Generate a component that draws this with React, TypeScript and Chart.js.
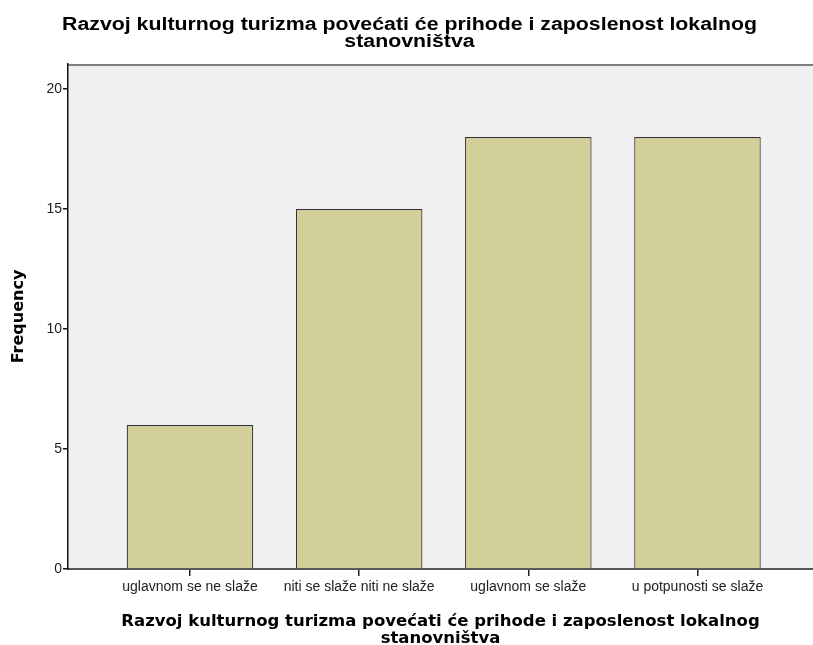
import React, { useEffect, useRef } from "react";
import { Chart, registerables } from "chart.js";

Chart.register(...registerables);

const categories = [
  "uglavnom se ne slaže",
  "niti se slaže niti ne slaže",
  "uglavnom se slaže",
  "u potpunosti se slaže",
];
const frequencies = [6, 15, 18, 18];
const yTicks = [0, 5, 10, 15, 20];
const titleLines = [
  "Razvoj kulturnog turizma povećati će prihode i zaposlenost lokalnog",
  "stanovništva",
];
const xTitleLines = [
  "Razvoj kulturnog turizma povećati će prihode i zaposlenost lokalnog",
  "stanovništva",
];
const yTitle = "Frequency";

const plotBg = {
  id: "plotBg",
  beforeDraw(chart: any) {
    const { ctx, chartArea } = chart;
    ctx.save();
    ctx.fillStyle = "#F0F0F0";
    ctx.fillRect(chartArea.left, chartArea.top, chartArea.right - chartArea.left, chartArea.bottom - chartArea.top);
    ctx.strokeStyle = "#808080";
    ctx.lineWidth = 2;
    ctx.beginPath();
    ctx.moveTo(chartArea.left, chartArea.top + 1);
    ctx.lineTo(chartArea.right, chartArea.top + 1);
    ctx.stroke();
    ctx.restore();
  },
};

const stretchedTitle = {
  id: "stretchedTitle",
  afterDraw(chart: any) {
    const { ctx } = chart;
    ctx.save();
    ctx.font = 'bold 18px "Liberation Sans", Arial, sans-serif';
    ctx.fillStyle = "#000";
    ctx.textAlign = "center";
    ctx.textBaseline = "middle";
    const cx = chart.width / 2 + 3;
    const w0 = ctx.measureText(titleLines[0]).width;
    const sx = 695 / w0;
    titleLines.forEach((line, i) => {
      ctx.save();
      ctx.translate(cx, 25 + i * 17);
      ctx.scale(sx, 1);
      ctx.fillText(line, 0, 0);
      ctx.restore();
    });
    ctx.restore();
  },
};

export default function App() {
  const ref = useRef<HTMLCanvasElement>(null);
  useEffect(() => {
    if (!ref.current) return;
    const chart = new Chart(ref.current, {
      type: "bar",
      data: {
        datasets: [
          {
            label: yTitle,
            data: categories.map((c, i) => ({ x: i, y: frequencies[i] })),
            backgroundColor: "#D3CF98",
            borderColor: "#333333",
            borderWidth: 1.2,
            categoryPercentage: 1,
            barPercentage: 0.748,
          },
        ],
      },
      options: {
        animation: false,
        responsive: false,
        layout: { padding: { top: 64, left: 0, right: 0, bottom: 0 } },
        plugins: {
          legend: { display: false },
          title: { display: false },
          tooltip: { enabled: false },
        },
        scales: {
          x: {
            type: "linear",
            offset: false,
            min: -0.7212,
            max: 3.683,
            afterBuildTicks: (scale: any) => {
              scale.ticks = categories.map((_, i) => ({ value: i }));
            },
            afterFit: (scale: any) => {
              scale.height = 76;
            },
            ticks: {
              autoSkip: false,
              maxRotation: 0,
              padding: 3,
              color: "#222",
              font: { family: '"Liberation Sans", Arial, sans-serif', size: 14 },
              callback: (v: any) => categories[v] ?? "",
            },
            grid: {
              display: true,
              offset: false,
              drawOnChartArea: false,
              drawTicks: true,
              tickLength: 7,
              tickColor: "#222",
              lineWidth: 1.5,
            },
            border: { display: true, color: "#555", width: 2 },
            title: {
              display: true,
              text: xTitleLines,
              color: "#000",
              font: { family: '"DejaVu Sans", sans-serif', size: 16.5, weight: "bold", lineHeight: "17px" },
              padding: { top: 0, bottom: -2 },
            },
          },
          y: {
            min: 0,
            max: 21.04,
            afterBuildTicks: (scale: any) => {
              scale.ticks = yTicks.map((v) => ({ value: v }));
            },
            afterFit: (scale: any) => {
              scale.width = 68;
            },
            ticks: {
              padding: 1,
              color: "#222",
              font: { family: '"Liberation Sans", Arial, sans-serif', size: 14 },
            },
            grid: {
              display: true,
              drawOnChartArea: false,
              drawTicks: true,
              tickLength: 5,
              tickColor: "#111",
              lineWidth: 1.5,
            },
            border: { display: true, color: "#111", width: 1.5 },
            title: {
              display: true,
              text: yTitle,
              color: "#000",
              font: { family: '"DejaVu Sans", sans-serif', size: 16, weight: "bold" },
              padding: { top: 9, bottom: 0 },
            },
          },
        },
      },
      plugins: [plotBg, stretchedTitle],
    });
    return () => chart.destroy();
  }, []);
  return (
    <div style={{ position: "absolute", left: 0, top: 0, width: 813, height: 645 }}>
      <canvas ref={ref} width={813} height={645} style={{ display: "block" }} />
    </div>
  );
}
